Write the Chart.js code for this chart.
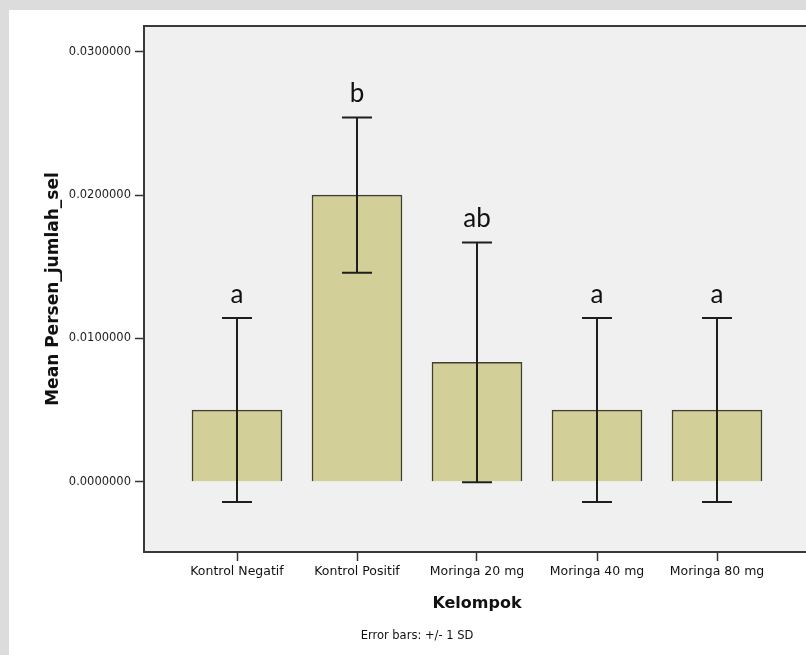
<!DOCTYPE html>
<html>
<head>
<meta charset="utf-8">
<script src="https://cdn.jsdelivr.net/npm/chart.js@4"></script>
<style>
  html, body { margin: 0; padding: 0; background: #dcdcdc; overflow: hidden; }
  #panel { position: absolute; left: 9px; top: 10px; width: 801px; height: 645px; background: #fff; }
</style>
</head>
<body>
<div id="panel"><canvas id="chartBar" width="801" height="645"></canvas></div>
<script>
  const categories = [
    "Kontrol Negatif",
    "Kontrol Positif",
    "Moringa 20 mg",
    "Moringa 40 mg",
    "Moringa 80 mg",
  ];
  const means = [0.005, 0.02, 0.00833, 0.005, 0.005];
  const sds = [0.00642, 0.00542, 0.00837, 0.00642, 0.00642];
  const letters = ["a", "b", "ab", "a", "a"];
  const yTicks = [0, 0.01, 0.02, 0.03];

  // error bars + significance letters
  const errorBars = {
    id: "errorBars",
    beforeDraw(chart) {
      const { ctx, chartArea: a } = chart;
      ctx.save();
      ctx.fillStyle = "#f0f0f0";
      ctx.fillRect(a.left, a.top, a.right - a.left, a.bottom - a.top);
      ctx.restore();
    },
    afterDatasetsDraw(chart) {
      const { ctx, chartArea: a } = chart;
      const x = chart.scales.x, y = chart.scales.y;
      ctx.save();
      ctx.strokeStyle = "#1e1e1e";
      ctx.lineWidth = 2;
      means.forEach((m, i) => {
        const px = x.getPixelForValue(i);
        const top = y.getPixelForValue(m + sds[i]);
        const bot = y.getPixelForValue(m - sds[i]);
        ctx.beginPath();
        ctx.moveTo(px, top); ctx.lineTo(px, bot);
        ctx.moveTo(px - 15, top); ctx.lineTo(px + 15, top);
        ctx.moveTo(px - 15, bot); ctx.lineTo(px + 15, bot);
        ctx.stroke();
        ctx.fillStyle = "#111";
        ctx.font = '26px Lato, "Open Sans", sans-serif';
        ctx.textAlign = "center";
        ctx.textBaseline = "alphabetic";
        ctx.fillText(letters[i], px, top - 15);
      });
      // top frame line
      ctx.strokeStyle = "#3a3a3a";
      ctx.beginPath();
      ctx.moveTo(a.left - 1, a.top);
      ctx.lineTo(a.right + 2, a.top);
      ctx.stroke();
      ctx.fillStyle = "#111";
      ctx.font = '11.5px "DejaVu Sans", sans-serif';
      ctx.textAlign = "center";
      ctx.textBaseline = "middle";
      ctx.fillText("Error bars: +/- 1 SD", 408, 626);
      ctx.restore();
    },
  };

  const data = {
    datasets: [
      {
        label: "Mean Persen_jumlah_sel",
        backgroundColor: "#d3cf98",
        borderColor: "#3f3f33",
        borderWidth: 1.5,
        barThickness: 90,
        data: means.map((m, i) => ({ x: i, y: m })),
      },
    ],
  };

  const configBarChart = {
    type: "bar",
    data,
    plugins: [errorBars],
    options: {
      responsive: false,
      animation: false,
      layout: { padding: { top: 16, left: 0, right: 0, bottom: 0 } },
      plugins: { legend: { display: false }, tooltip: { enabled: false } },
      scales: {
        x: {
          type: "linear",
          min: -0.775,
          max: 4.775,
          offset: false,
          afterBuildTicks: (s) => { s.ticks = categories.map((c, i) => ({ value: i })); },
          afterFit: (s) => { s.height = 103; },
          grid: { offset: false, drawOnChartArea: false, tickLength: 9, tickColor: "#333", tickWidth: 1.5 },
          border: { color: "#3a3a3a", width: 2 },
          ticks: {
            autoSkip: false,
            maxRotation: 0,
            padding: 3,
            color: "#111",
            font: { family: "DejaVu Sans", size: 12.5 },
            callback: (v) => categories[v],
          },
          title: {
            display: true,
            text: "Kelompok",
            color: "#111",
            font: { family: "DejaVu Sans", size: 16, weight: "bold" },
            padding: { top: 0, bottom: 42 },
          },
        },
        y: {
          min: -0.0049,
          max: 0.0318,
          afterBuildTicks: (s) => { s.ticks = yTicks.map((v) => ({ value: v })); },
          afterFit: (s) => { s.width = 135; },
          grid: { drawOnChartArea: false, tickLength: 9, tickColor: "#333", tickWidth: 1.5 },
          border: { color: "#3a3a3a", width: 2 },
          ticks: {
            padding: 4,
            color: "#222",
            font: { family: "DejaVu Sans", size: 11.5 },
            callback: (v) => v.toFixed(7),
          },
          title: {
            display: true,
            text: "Mean Persen_jumlah_sel",
            color: "#111",
            font: { family: "DejaVu Sans", size: 17, weight: "bold" },
            padding: { top: 34, bottom: 0 },
          },
        },
      },
    },
  };

  var chartBar = new Chart(document.getElementById("chartBar"), configBarChart);
</script>
</body>
</html>
